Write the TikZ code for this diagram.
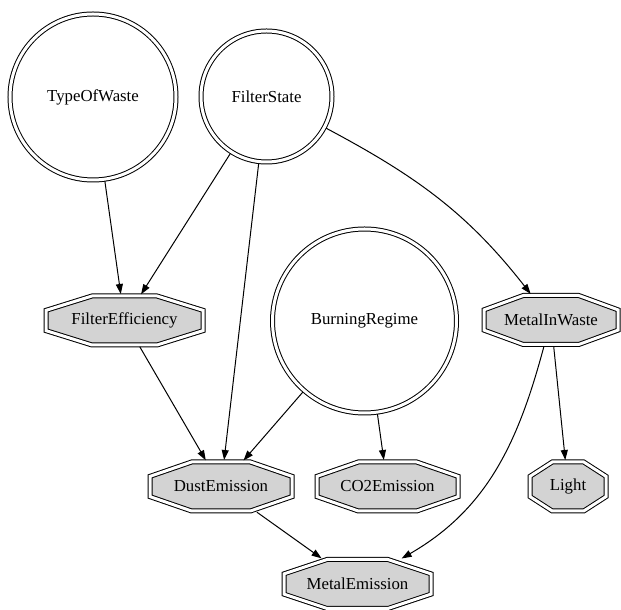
\documentclass[tikz,border=0pt]{standalone}
\usepackage{fontspec}
\setmainfont{Liberation Serif}
\usetikzlibrary{arrows.meta,calc,backgrounds}
\definecolor{octfill}{HTML}{D3D3D3}
\tikzset{
  var/.style={circle,draw,double,double distance=3pt,line width=1pt,inner sep=0pt,outer sep=0pt,
    font=\fontsize{16.8}{20}\selectfont},
  octbox/.style={rectangle,inner sep=0pt,outer sep=0pt,minimum height=49pt,
    font=\fontsize{16.8}{20}\selectfont},
  octline/.style={draw,fill=octfill,double,double distance=3pt,line width=1pt,line join=miter},
  edge/.style={-{Triangle[length=10pt,width=7pt]},line width=1pt,shorten <=2pt,shorten >=2pt}
}

\begin{document}
\begin{tikzpicture}[x=1pt,y=1pt]
    \useasboundingbox (0,0) rectangle (621,610);
    \node[var,minimum size=166pt] (tow) at (93,513) {TypeOfWaste};
    \node[var,minimum size=131pt] (fs) at (266.5,513.5) {FilterState};
    \node[var,minimum size=184pt] (br) at (364.5,289) {BurningRegime};
    \node[octbox,minimum width=157pt] (eff) at (124.5,289.5) {FilterEfficiency};
    \node[octbox,minimum width=134pt] (metin) at (551,290) {MetalInWaste};
    \node[octbox,minimum width=142pt] (dust) at (221,123.5) {DustEmission};
    \node[octbox,minimum width=141pt] (co2) at (387.5,123.5) {CO2Emission};
    \node[octbox,minimum width=76pt] (light) at (568,123.5) {Light};
    \node[octbox,minimum width=147pt] (metem) at (357.5,26) {MetalEmission};
    \begin{pgfonlayer}{background}
      \foreach \n in {eff,metin,dust,co2,light,metem}
        \draw[octline] ($(\n.north west)!.293!(\n.north east)$) -- ($(\n.north west)!.707!(\n.north east)$)
          -- ($(\n.north east)!.293!(\n.south east)$) -- ($(\n.north east)!.707!(\n.south east)$)
          -- ($(\n.south east)!.293!(\n.south west)$) -- ($(\n.south east)!.707!(\n.south west)$)
          -- ($(\n.south west)!.293!(\n.north west)$) -- ($(\n.south west)!.707!(\n.north west)$) -- cycle;
    \end{pgfonlayer}
    \draw[edge] (tow) -- (eff);
    \draw[edge] (fs) -- (eff);
    \draw[edge] (fs) -- (dust);
    \draw[edge] (fs) to[out=-28,in=128] (metin);
    \draw[edge] (eff) -- (dust);
    \draw[edge] (br) -- (dust);
    \draw[edge] (br) -- (co2);
    \draw[edge] (metin) -- (light);
    \draw[edge] (metin) to[out=-105,in=30] (metem);
    \draw[edge] (dust) -- (metem);
  \end{tikzpicture}
\end{document}
